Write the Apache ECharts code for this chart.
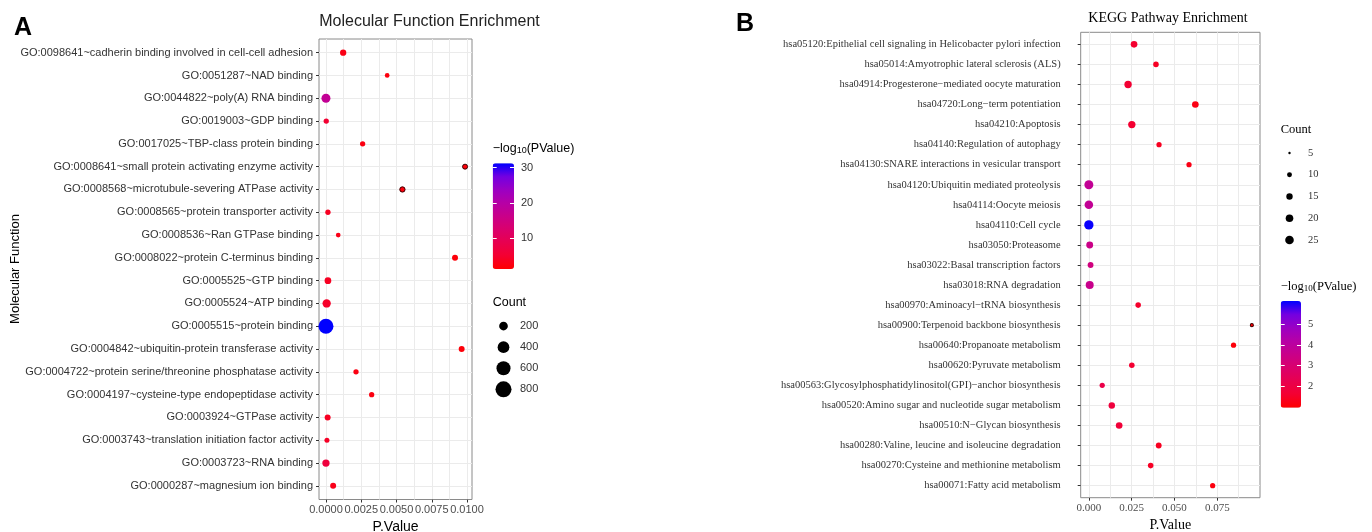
<!DOCTYPE html>
<html>
<head>
<meta charset="utf-8">
<script src="https://cdn.jsdelivr.net/npm/echarts@6/dist/echarts.min.js"></script>
<style>
html, body { margin: 0; padding: 0; background: #fff; }
#chart { width: 1372px; height: 532px; }
</style>
</head>
<body>
<div id="chart"></div>
<script>
// ---- panel A: GO molecular function (listed top to bottom) ----
const goTerms = [
  'GO:0098641~cadherin binding involved in cell-cell adhesion',
  'GO:0051287~NAD binding',
  'GO:0044822~poly(A) RNA binding',
  'GO:0019003~GDP binding',
  'GO:0017025~TBP-class protein binding',
  'GO:0008641~small protein activating enzyme activity',
  'GO:0008568~microtubule-severing ATPase activity',
  'GO:0008565~protein transporter activity',
  'GO:0008536~Ran GTPase binding',
  'GO:0008022~protein C-terminus binding',
  'GO:0005525~GTP binding',
  'GO:0005524~ATP binding',
  'GO:0005515~protein binding',
  'GO:0004842~ubiquitin-protein transferase activity',
  'GO:0004722~protein serine/threonine phosphatase activity',
  'GO:0004197~cysteine-type endopeptidase activity',
  'GO:0003924~GTPase activity',
  'GO:0003743~translation initiation factor activity',
  'GO:0003723~RNA binding',
  'GO:0000287~magnesium ion binding'
]
const goPValue = [0.00122, 0.00434, 0.0, 0.00002, 0.0026, 0.00986, 0.00542, 0.00014, 0.00087, 0.00915,
  0.00014, 0.00005, 0.0, 0.00962, 0.00213, 0.00324, 0.00012, 0.00007, 0.0, 0.00051]
const goLogP = [2.9, 2.4, 17.7, 5.2, 2.6, 2.0, 2.3, 3.9, 3.1, 2.0,
  3.9, 4.4, 31.2, 2.0, 2.7, 2.5, 3.9, 4.2, 6.5, 3.3]
const goCount = [93, 46, 217, 61, 61, 53, 61, 61, 46, 82,
  108, 180, 694, 82, 61, 61, 82, 53, 132, 82]
const goPTicks = [0, 0.0025, 0.005, 0.0075, 0.01]
const goPMinor = [0.00125, 0.00375, 0.00625, 0.00875]
const goLogPTicks = [10, 20, 30]
const goCountLegend = [200, 400, 600, 800]
const goEdged = ['GO:0008641', 'GO:0008568']

// ---- panel B: KEGG pathways (listed top to bottom) ----
const keggTerms = [
  'hsa05120:Epithelial cell signaling in Helicobacter pylori infection',
  'hsa05014:Amyotrophic lateral sclerosis (ALS)',
  'hsa04914:Progesterone\u2212mediated oocyte maturation',
  'hsa04720:Long\u2212term potentiation',
  'hsa04210:Apoptosis',
  'hsa04140:Regulation of autophagy',
  'hsa04130:SNARE interactions in vesicular transport',
  'hsa04120:Ubiquitin mediated proteolysis',
  'hsa04114:Oocyte meiosis',
  'hsa04110:Cell cycle',
  'hsa03050:Proteasome',
  'hsa03022:Basal transcription factors',
  'hsa03018:RNA degradation',
  'hsa00970:Aminoacyl\u2212tRNA biosynthesis',
  'hsa00900:Terpenoid backbone biosynthesis',
  'hsa00640:Propanoate metabolism',
  'hsa00620:Pyruvate metabolism',
  'hsa00563:Glycosylphosphatidylinositol(GPI)\u2212anchor biosynthesis',
  'hsa00520:Amino sugar and nucleotide sugar metabolism',
  'hsa00510:N\u2212Glycan biosynthesis',
  'hsa00280:Valine, leucine and isoleucine degradation',
  'hsa00270:Cysteine and methionine metabolism',
  'hsa00071:Fatty acid metabolism'
]
const keggPValue = [0.0264, 0.0392, 0.0229, 0.0622, 0.0251, 0.0410, 0.0585, 0.0, 0.0, 0.0,
  0.0005, 0.001, 0.0005, 0.0288, 0.0952, 0.0845, 0.0251, 0.0078, 0.0134, 0.0177,
  0.0408, 0.0361, 0.0723]
const keggLogP = [1.58, 1.41, 1.64, 1.21, 1.60, 1.39, 1.23, 3.8, 3.8, 6.1,
  3.5, 3.3, 3.6, 1.54, 1.02, 1.07, 1.60, 2.11, 1.87, 1.75,
  1.39, 1.44, 1.14]
const keggCount = [16, 12, 19, 16, 19, 11, 11, 27, 25, 29,
  17, 13, 22, 12, 6, 11, 12, 11, 15, 16,
  13, 12, 11]
const keggPTicks = [0, 0.025, 0.05, 0.075]
const keggPMinor = [0.0125, 0.0375, 0.0625, 0.0875]
const keggLogPTicks = [2, 3, 4, 5]
const keggCountLegend = [5, 10, 15, 20, 25]
const keggEdged = ['hsa00900']

// red -> blue, interpolated like ggplot's gradient
const palette = ['#FF0000', '#F40031', '#E8004F', '#DA006C', '#C90089', '#B600A6', '#9B00C3', '#7300E1', '#0000FF']
const SANS = '"Liberation Sans", Arial, sans-serif'
const SERIF = '"Liberation Serif", "Times New Roman", serif'
const GRIDLINE = { show: true, lineStyle: { color: '#EBEBEB', width: 1 } }

const goSize = c => 1.66 + 0.51 * Math.sqrt(Math.max(c - 10, 0))
const keggSize = c => 0.67 + 1.73 * Math.sqrt(Math.max(c - 4, 0))

function mainX(gridIndex, min, max, ticks, digits, font, size) {
  return {
    type: 'value', gridIndex, min, max, position: 'bottom',
    axisLine: { show: false, onZero: false },
    axisTick: { show: true, length: 3, customValues: ticks, lineStyle: { color: '#333' } },
    axisLabel: { customValues: ticks, formatter: v => v.toFixed(digits), color: '#4d4d4d', fontFamily: font, fontSize: size, margin: 5 },
    splitLine: GRIDLINE,
    name: 'P.Value', nameLocation: 'middle', nameGap: 17,
    nameTextStyle: { fontFamily: font, fontSize: 14, color: '#000' }
  }
}
function minorX(gridIndex, min, max, ticks) {
  return {
    type: 'value', gridIndex, min, max, position: 'top',
    axisLine: { show: false, onZero: false }, axisLabel: { show: false },
    axisTick: { show: false, customValues: ticks },
    splitLine: GRIDLINE
  }
}
function mainY(gridIndex, terms, font, size, margin) {
  const idx = terms.map((_, i) => i)
  return {
    type: 'value', gridIndex, inverse: true, min: -0.6, max: terms.length - 0.4, position: 'left',
    axisLine: { show: false, onZero: false },
    axisTick: { show: true, length: 3, customValues: idx, lineStyle: { color: '#333' } },
    axisLabel: { customValues: idx, formatter: v => terms[v], color: '#333', fontFamily: font, fontSize: size, margin },
    splitLine: GRIDLINE
  }
}
function hiddenX(gridIndex) {
  return { type: 'value', gridIndex, min: -1, max: 1, show: false, axisLine: { onZero: false } }
}
function legendY(gridIndex, values, font, size, margin) {
  return {
    type: 'category', gridIndex, inverse: true, position: 'right',
    data: values.map(String),
    axisLine: { show: false, onZero: false }, axisTick: { show: false },
    axisLabel: { color: '#333', fontFamily: font, fontSize: size, margin }
  }
}
function barY(gridIndex, min, max, ticks, position, font, size) {
  return {
    type: 'value', gridIndex, min, max, position, z: 10,
    axisLine: { show: false, onZero: false },
    axisTick: { show: true, inside: true, length: 4, customValues: ticks, lineStyle: { color: '#fff', width: 1 } },
    axisLabel: { show: position === 'right', customValues: ticks, color: '#333', fontFamily: font, fontSize: size, margin: 7 },
    splitLine: { show: false }
  }
}
function points(pv, logp, count, terms, edged) {
  return pv.map((p, i) => {
    const item = { value: [p, i, logp[i], count[i]] }
    if (edged.some(id => terms[i].startsWith(id))) {
      item.itemStyle = { borderColor: '#3a0000', borderWidth: 1 }
    }
    return item
  })
}
function legendTitle(x, y, font, size) {
  return {
    type: 'text', x, y,
    style: {
      text: '\u2212log{s|10}(PValue)', font: size + 'px ' + font, fill: '#000',
      align: 'left', verticalAlign: 'middle',
      rich: { s: { fontSize: size * 0.72, fontFamily: font, verticalAlign: 'bottom', lineHeight: size * 0.9 } }
    }
  }
}
function plainText(x, y, text, font, align, fill, extra) {
  return Object.assign({ type: 'text', x, y, style: { text, font, fill: fill || '#000', align, verticalAlign: 'middle' } }, extra || {})
}
function plotGrid(left, top, width, height) {
  return { left, top, width, height, show: true, borderColor: '#8a8a8a', borderWidth: 1, backgroundColor: '#fff', outerBoundsMode: 'none' }
}
function boxGrid(left, top, width, height) {
  return { left, top, width, height, outerBoundsMode: 'none' }
}

const option = {
  animation: false,
  backgroundColor: '#fff',
  grid: [
    plotGrid(319, 39, 153, 460.5),
    boxGrid(495, 315.5, 17, 84.4),
    boxGrid(492.7, 163.3, 21.3, 105.7),
    plotGrid(1080.7, 32.3, 179.3, 465.4),
    boxGrid(1281, 142.1, 17, 108.8),
    boxGrid(1280.7, 301, 20.3, 106.7)
  ],
  xAxis: [
    mainX(0, -0.000493, 0.010353, goPTicks, 4, SANS, 11),
    minorX(0, -0.000493, 0.010353, goPMinor),
    hiddenX(1),
    hiddenX(2),
    mainX(3, -0.00476, 0.09996, keggPTicks, 3, SERIF, 11),
    minorX(3, -0.00476, 0.09996, keggPMinor),
    hiddenX(4),
    hiddenX(5)
  ],
  yAxis: [
    mainY(0, goTerms, SANS, 11, 6),
    legendY(1, goCountLegend, SANS, 11, 8),
    barY(2, 1.3, 31.2, goLogPTicks, 'right', SANS, 11),
    barY(2, 1.3, 31.2, goLogPTicks, 'left', SANS, 11),
    mainY(3, keggTerms, SERIF, 10.5, 20),
    legendY(4, keggCountLegend, SERIF, 10.5, 10),
    barY(5, 0.95, 6.15, keggLogPTicks, 'right', SERIF, 10.5),
    barY(5, 0.95, 6.15, keggLogPTicks, 'left', SERIF, 10.5)
  ],
  visualMap: [
    {
      type: 'continuous', seriesIndex: 0, dimension: 2, min: 1.3, max: 31.2,
      inRange: { color: palette }, calculable: false, hoverLink: false, padding: 0,
      left: 492.7, top: 163.3, itemWidth: 21.3, itemHeight: 105.7, text: null
    },
    {
      type: 'continuous', seriesIndex: 2, dimension: 2, min: 0.95, max: 6.15,
      inRange: { color: palette }, calculable: false, hoverLink: false, padding: 0,
      left: 1280.7, top: 301, itemWidth: 20.3, itemHeight: 106.7, text: null
    }
  ],
  series: [
    {
      type: 'scatter', xAxisIndex: 0, yAxisIndex: 0,
      data: points(goPValue, goLogP, goCount, goTerms, goEdged),
      symbolSize: v => goSize(v[3]),
      itemStyle: { opacity: 1 }
    },
    {
      type: 'scatter', xAxisIndex: 2, yAxisIndex: 1,
      data: goCountLegend.map((c, i) => [0, i, c]),
      symbolSize: v => goSize(v[2]),
      itemStyle: { color: '#000', opacity: 1 }
    },
    {
      type: 'scatter', xAxisIndex: 4, yAxisIndex: 4,
      data: points(keggPValue, keggLogP, keggCount, keggTerms, keggEdged),
      symbolSize: v => keggSize(v[3]),
      itemStyle: { opacity: 1 }
    },
    {
      type: 'scatter', xAxisIndex: 6, yAxisIndex: 5,
      data: keggCountLegend.map((c, i) => [0, i, c]),
      symbolSize: v => keggSize(v[2]),
      itemStyle: { color: '#000', opacity: 1 }
    }
  ],
  graphic: [
    plainText(14, 28, 'A', 'bold 25px ' + SANS, 'left'),
    plainText(736, 24, 'B', 'bold 25px ' + SANS, 'left'),
    plainText(429.5, 22, 'Molecular Function Enrichment', '16px ' + SANS, 'center', '#222'),
    plainText(1168, 18, 'KEGG Pathway Enrichment', '14px ' + SERIF, 'center'),
    plainText(15, 269, 'Molecular Function', '13px ' + SANS, 'center', '#000', { rotation: Math.PI / 2 }),
    legendTitle(492.7, 149, SANS, 12.5),
    plainText(492.7, 303, 'Count', '12.5px ' + SANS, 'left'),
    plainText(1280.7, 130, 'Count', '12.5px ' + SERIF, 'left'),
    legendTitle(1280.7, 287, SERIF, 12.5)
  ]
}

const chart = echarts.init(document.getElementById('chart'))
chart.setOption(option)
window.addEventListener('resize', () => chart.resize())
</script>
</body>
</html>
